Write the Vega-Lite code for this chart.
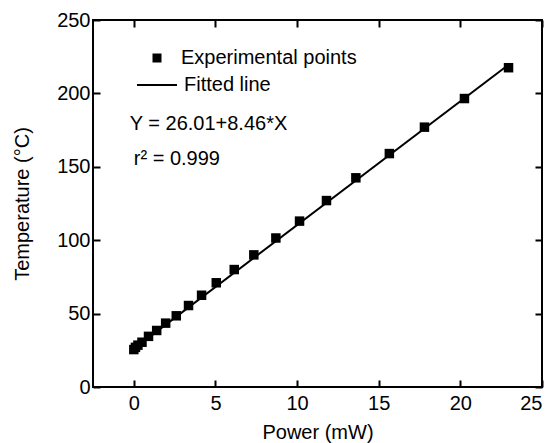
{
  "$schema": "https://vega.github.io/schema/vega-lite/v6.json",
  "width": 449,
  "height": 367,
  "autosize": {"type": "none"},
  "padding": {"left": 93, "top": 20, "right": 12, "bottom": 56},
  "background": "white",
  "config": {
    "font": "Liberation Sans",
    "view": {"stroke": "black", "strokeWidth": 2},
    "axis": {
      "domain": false,
      "ticks": false,
      "grid": true,
      "gridColor": "black",
      "gridOpacity": 1,
      "gridWidth": 2,
      "labelColor": "black",
      "titleColor": "black",
      "labelFontSize": 20,
      "titleFontSize": 20,
      "titleFontWeight": "normal",
      "labelFont": "Liberation Sans",
      "titleFont": "Liberation Sans"
    },
    "legend": {"labelFont": "Liberation Sans", "labelFontSize": 20, "labelColor": "black", "labelLimit": 400, "padding": 0}
  },
  "resolve": {"axis": {"x": "independent", "y": "independent"}},
  "datasets": {
    "points": [
      {"power": 0, "temp": 25.5},
      {"power": 0.1, "temp": 27},
      {"power": 0.25, "temp": 28.5},
      {"power": 0.5, "temp": 30.5},
      {"power": 0.9, "temp": 34.5},
      {"power": 1.4, "temp": 38.5},
      {"power": 1.95, "temp": 43.5},
      {"power": 2.6, "temp": 48.5},
      {"power": 3.35, "temp": 55.5},
      {"power": 4.15, "temp": 62.5},
      {"power": 5.05, "temp": 71},
      {"power": 6.15, "temp": 80},
      {"power": 7.35, "temp": 90},
      {"power": 8.7, "temp": 101.5},
      {"power": 10.15, "temp": 113},
      {"power": 11.8, "temp": 127},
      {"power": 13.6, "temp": 142.5},
      {"power": 15.65, "temp": 159},
      {"power": 17.8, "temp": 177},
      {"power": 20.25, "temp": 196.5},
      {"power": 22.95, "temp": 217.5}
    ],
    "fit": [
      {"power": 0, "temp": 26},
      {"power": 22.95, "temp": 219.5}
    ]
  },
  "layer": [
    {
      "data": {"name": "fit"},
      "mark": {"type": "line", "strokeWidth": 2},
      "encoding": {
        "x": {
          "field": "power", "type": "quantitative",
          "scale": {"domain": [-2.5, 25], "nice": false, "zero": false},
          "axis": {
            "orient": "bottom",
            "values": [0, 5, 10, 15, 20, 25],
            "gridDash": [7, 353, 7, 100],
            "labelPadding": 6,
            "title": "Power (mW)",
            "titlePadding": 9
          }
        },
        "y": {
          "field": "temp", "type": "quantitative",
          "scale": {"domain": [0, 250], "nice": false},
          "axis": {
            "orient": "left",
            "values": [0, 50, 100, 150, 200, 250],
            "gridDash": [7, 435, 7, 100],
            "labelPadding": 3,
            "title": "Temperature (°C)",
            "titlePadding": 24
          }
        },
        "color": {
          "datum": "Fitted line",
          "scale": {"range": ["black"]},
          "legend": {
            "title": null,
            "orient": "none",
            "legendX": 43,
            "legendY": 44,
            "symbolType": "stroke",
            "symbolSize": 1600,
            "symbolStrokeWidth": 2,
            "labelOffset": 6
          }
        }
      }
    },
    {
      "data": {"name": "points"},
      "mark": {"type": "point", "filled": true, "color": "black", "size": 90, "opacity": 1},
      "encoding": {
        "x": {
          "field": "power", "type": "quantitative",
          "axis": {"orient": "bottom", "values": [2.5, 7.5, 12.5, 17.5, 22.5], "labels": false, "title": null, "gridDash": [4, 359, 4, 100]}
        },
        "y": {
          "field": "temp", "type": "quantitative",
          "axis": {"orient": "left", "values": [25, 75, 125, 175, 225], "labels": false, "title": null, "gridDash": [4, 441, 4, 100]}
        },
        "shape": {
          "datum": "Experimental points",
          "scale": {"range": ["square"]},
          "legend": {
            "title": null,
            "orient": "none",
            "legendX": 54,
            "legendY": 28,
            "symbolSize": 81,
            "labelOffset": 14
          }
        }
      }
    },
    {
      "data": {"values": [{}]},
      "mark": {"type": "text", "align": "left", "baseline": "middle", "fontSize": 20, "color": "black", "font": "Liberation Sans"},
      "encoding": {
        "x": {"datum": -0.25, "type": "quantitative", "axis": null},
        "y": {"datum": 179, "type": "quantitative", "axis": null},
        "text": {"value": "Y = 26.01+8.46*X"}
      }
    },
    {
      "data": {"values": [{}]},
      "mark": {"type": "text", "align": "left", "baseline": "middle", "fontSize": 20, "color": "black", "font": "Liberation Sans"},
      "encoding": {
        "x": {"datum": 0.0, "type": "quantitative", "axis": null},
        "y": {"datum": 155, "type": "quantitative", "axis": null},
        "text": {"value": "r² = 0.999"}
      }
    }
  ]
}
